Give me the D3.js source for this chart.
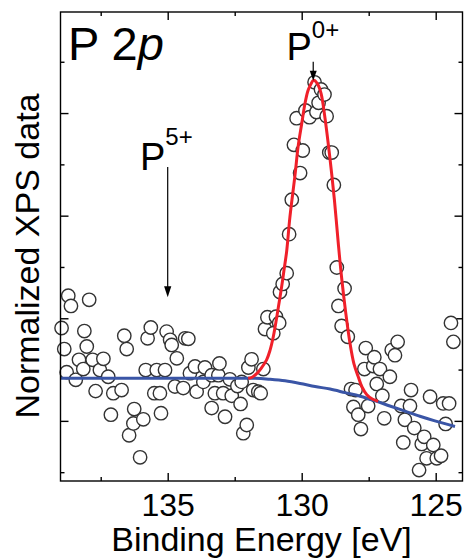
<!DOCTYPE html>
<html>
<head>
<meta charset="utf-8">
<script src="https://cdn.jsdelivr.net/npm/d3@7"></script>
<style>
  html, body { margin: 0; padding: 0; background: #fff; }
  svg { display: block; font-family: "Liberation Sans", Arial, Helvetica, sans-serif; }
</style>
</head>
<body>
<svg id="chart" width="465" height="558"></svg>
<script>
// ---- Data (binding energy in eV, normalized intensity in y-tick units) ----
const pointEnergy = [
  138.96,138.86,138.77,138.71,138.61,138.43,138.31,138.15,138.11,138.02,
  137.93,137.80,137.69,137.53,137.40,137.22,137.12,137.03,136.72,136.62,
  136.53,136.44,136.28,136.25,136.03,135.91,135.82,135.75,135.63,135.50,
  135.41,135.29,135.25,135.10,135.04,134.91,134.85,134.73,134.66,134.42,
  134.35,134.23,134.17,133.98,133.92,
  133.67,133.61,133.36,133.36,133.24,133.11,133.07,132.93,132.86,132.68,
  132.61,132.40,132.28,132.24,132.18,132.05,131.99,131.87,131.81,131.62,
  131.53,131.43,131.37,131.28,131.06,130.96,130.84,130.81,130.71,130.56,
  130.47,130.37,130.29,130.19,130.06,129.96,129.86,129.71,129.45,129.52,
  129.37,129.28,129.15,129.07,128.97,128.88,128.80,128.69,128.63,128.51,
  128.40,128.28,
  128.16,128.07,127.99,127.89,127.79,127.66,127.61,127.52,127.33,127.29,
  127.20,127.08,126.99,126.92,126.71,126.64,126.52,126.42,126.29,126.21,
  126.15,125.96,125.92,125.80,125.62,125.52,125.43,125.34,125.21,125.09,
  124.96,124.80,124.72,124.63,124.50,124.43,124.34
];
const pointIntensity = [
  2.81,2.40,1.95,3.44,3.24,1.80,2.19,2.01,2.75,2.45,
  3.36,2.19,1.58,1.99,2.21,1.86,1.12,1.54,1.60,2.66,
  2.40,0.72,0.95,1.23,0.29,1.03,1.99,2.61,2.82,1.54,
  1.99,1.54,1.15,1.99,2.74,2.58,2.48,1.67,2.22,1.64,
  2.61,2.60,1.93,2.06,1.57,
  1.76,2.04,1.89,1.25,1.54,1.89,2.12,1.54,1.08,1.81,
  1.49,1.68,1.33,1.76,0.76,0.92,2.04,2.20,1.60,1.57,
  1.54,2.01,2.79,3.02,2.71,3.03,2.91,3.51,3.67,3.88,
  4.64,5.31,6.38,6.90,5.83,6.27,7.05,6.92,7.02,7.60,
  7.20,7.46,7.36,6.94,6.23,6.23,5.60,3.99,3.24,2.85,
  3.58,2.64,
  1.62,1.27,1.60,1.12,0.84,2.01,2.42,1.29,2.07,2.24,
  1.72,2.01,1.49,1.05,1.86,2.38,2.28,2.54,1.29,0.58,
  1.02,1.29,1.60,0.86,0.04,0.55,0.69,0.27,1.47,0.53,
  0.27,0.32,1.34,0.94,1.34,2.91,2.54
];

// Fit curve (P0+ component on background)
const fitEnergy = [
  132.00,131.85,131.68,131.52,131.31,131.18,131.06,130.96,130.87,130.75,
  130.66,130.56,130.44,130.25,130.13,130.00,129.88,129.77,129.69,129.55,
  129.41,129.28,129.13,128.94,128.78,128.63,128.51,128.36,128.20,128.05,
  127.89,127.75,127.57,127.38,127.15
];
const fitIntensity = [
  1.83,1.85,1.92,2.02,2.19,2.38,2.64,2.93,3.22,3.61,
  3.94,4.31,4.97,5.79,6.36,6.79,7.18,7.43,7.53,7.64,
  7.57,7.39,6.90,6.09,5.31,4.43,3.79,3.12,2.52,2.11,
  1.86,1.66,1.51,1.43,1.38
];

// Background curve
const bgEnergy = [139.00,135.66,132.68,131.74,131.18,130.62,130.06,129.50,128.94,128.38,127.82,127.26,126.71,126.15,125.59,125.03,124.28];
const bgIntensity = [1.83,1.83,1.83,1.83,1.81,1.78,1.73,1.67,1.62,1.55,1.48,1.39,1.29,1.19,1.09,1.00,0.89];

// Axis ticks
const xMajorTicks = [135, 130, 125];
const xMinorTicks = [137.5, 132.5, 127.5];
const yMajorTicks = [1, 3, 5, 7];
const yMinorTicks = [0, 2, 4, 6, 8];

// Annotation arrows: [energy, intensity from, intensity to]
const arrowP5 = [135.0, 5.95, 3.41];
const arrowP0 = [129.57, 8.00, 7.63];

// ---- Layout ----
const svg = d3.select("#chart");
const L = 60.5, T = 12, R = 462.5, B = 481;

const x = d3.scaleLinear().domain([139, 124]).range([L, R]);
const y = d3.scaleLinear().domain([-0.172, 8.97]).range([B, T]);

const fontAxis = 32;

function styleAxis(g) {
  g.select(".domain").remove();
  g.selectAll(".tick line").attr("stroke", "#000").attr("stroke-width", 1.4);
  g.selectAll(".tick text").attr("font-size", fontAxis).attr("fill", "#000")
    .attr("font-family", '"Liberation Sans", Arial, Helvetica, sans-serif');
}

svg.append("g").attr("transform", `translate(0,${B})`)
  .call(d3.axisBottom(x).tickValues(xMajorTicks).tickSize(-8).tickPadding(12).tickFormat(d3.format("d")))
  .call(styleAxis);
svg.append("g").attr("transform", `translate(0,${B})`)
  .call(d3.axisBottom(x).tickValues(xMinorTicks).tickSize(-4).tickFormat(""))
  .call(styleAxis);
svg.append("g").attr("transform", `translate(0,${T})`)
  .call(d3.axisTop(x).tickValues(xMajorTicks).tickSize(-8).tickFormat(""))
  .call(styleAxis);
svg.append("g").attr("transform", `translate(0,${T})`)
  .call(d3.axisTop(x).tickValues(xMinorTicks).tickSize(-4).tickFormat(""))
  .call(styleAxis);
svg.append("g").attr("transform", `translate(${L},0)`)
  .call(d3.axisLeft(y).tickValues(yMajorTicks).tickSize(-8).tickFormat(""))
  .call(styleAxis);
svg.append("g").attr("transform", `translate(${L},0)`)
  .call(d3.axisLeft(y).tickValues(yMinorTicks).tickSize(-4).tickFormat(""))
  .call(styleAxis);
svg.append("g").attr("transform", `translate(${R},0)`)
  .call(d3.axisRight(y).tickValues(yMajorTicks).tickSize(-8).tickFormat(""))
  .call(styleAxis);
svg.append("g").attr("transform", `translate(${R},0)`)
  .call(d3.axisRight(y).tickValues(yMinorTicks).tickSize(-4).tickFormat(""))
  .call(styleAxis);

// Data points
const pts = pointEnergy.map((e, i) => ({ e, v: pointIntensity[i] }));
svg.append("g").selectAll("circle").data(pts).join("circle")
  .attr("cx", d => x(d.e)).attr("cy", d => y(d.v)).attr("r", 6.7)
  .attr("fill", "#fff").attr("stroke", "#333").attr("stroke-width", 1.4);

// Curves
const line = d3.line().x(d => x(d[0])).y(d => y(d[1])).curve(d3.curveCatmullRom.alpha(0.5));
svg.append("path")
  .attr("d", line(bgEnergy.map((e, i) => [e, bgIntensity[i]])))
  .attr("fill", "none").attr("stroke", "#3a55a6").attr("stroke-width", 3);
svg.append("path")
  .attr("d", line(fitEnergy.map((e, i) => [e, fitIntensity[i]])))
  .attr("fill", "none").attr("stroke", "#f0202a").attr("stroke-width", 3);

// Frame
svg.append("rect").attr("x", L).attr("y", T).attr("width", R - L).attr("height", B - T)
  .attr("fill", "none").attr("stroke", "#000").attr("stroke-width", 1.4);

// Arrows
function arrow(a, headLen, headHalf) {
  const ax = x(a[0]), y1 = y(a[1]), y2 = y(a[2]);
  svg.append("line").attr("x1", ax).attr("x2", ax).attr("y1", y1).attr("y2", y2 - headLen + 1)
    .attr("stroke", "#000").attr("stroke-width", 1.2);
  svg.append("path")
    .attr("d", `M${ax},${y2} L${ax - headHalf},${y2 - headLen} L${ax + headHalf},${y2 - headLen} Z`)
    .attr("fill", "#000");
}
arrow(arrowP5, 11, 3.6);
arrow(arrowP0, 10, 3.5);

// Labels
const t1 = svg.append("text").attr("x", 68).attr("y", 60).attr("font-size", 47).attr("fill", "#000");
t1.append("tspan").text("P 2");
t1.append("tspan").attr("font-style", "italic").text("p");

const t2 = svg.append("text").attr("x", 286.5).attr("y", 60).attr("font-size", 38).attr("fill", "#000");
t2.append("tspan").text("P");
t2.append("tspan").attr("font-size", 24).attr("dy", -22).text("0+");

const t3 = svg.append("text").attr("x", 140).attr("y", 169.5).attr("font-size", 38).attr("fill", "#000");
t3.append("tspan").text("P");
t3.append("tspan").attr("font-size", 24).attr("dy", -25).text("5+");

svg.append("text").attr("x", (L + R) / 2).attr("y", 551).attr("text-anchor", "middle")
  .attr("font-size", 34).attr("fill", "#000").text("Binding Energy [eV]");

svg.append("text").attr("transform", "translate(39,256) rotate(-90)").attr("text-anchor", "middle")
  .attr("font-size", 34).attr("fill", "#000").text("Normalized XPS data");
</script>
</body>
</html>
